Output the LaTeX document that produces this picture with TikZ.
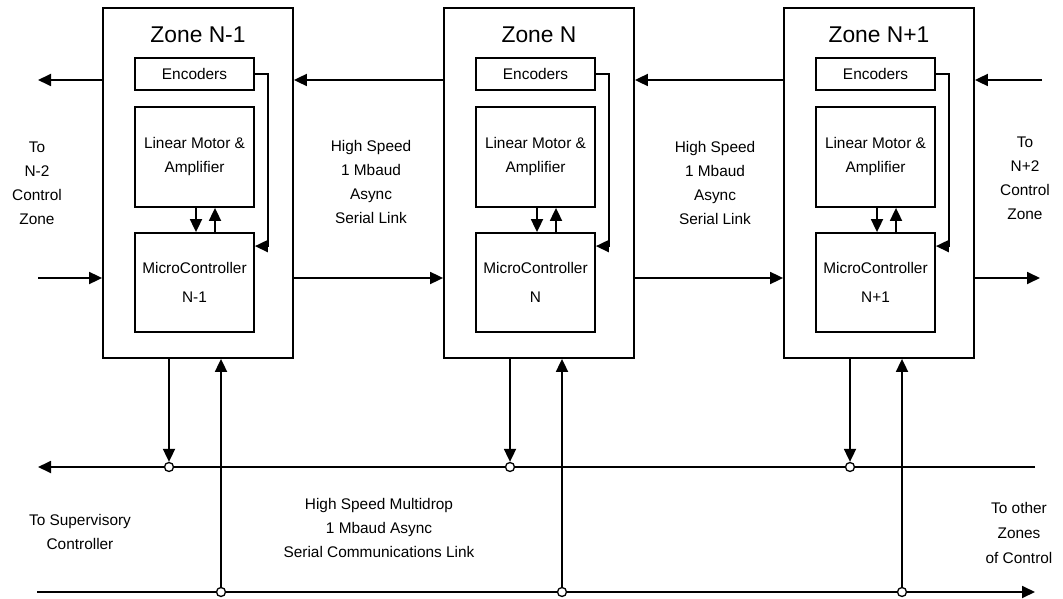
\documentclass[tikz,border=0pt]{standalone}
\usepackage{fontspec}
\setmainfont{Liberation Sans}
\usetikzlibrary{arrows.meta}
\newcommand\lblfont{\fontsize{15.4}{24}\selectfont}
\newcommand\ttlfont{\fontsize{22.8}{27}\selectfont}
\begin{document}
\begin{tikzpicture}[x=1pt,y=-1pt,line width=1.8pt,
  arr/.style={-{Triangle[length=13pt,width=12pt]}},
  zonebox/.style={draw, minimum width=190pt, minimum height=350pt, inner sep=0pt},
  unit/.style={draw, minimum width=119pt, inner sep=0pt, align=center, font=\lblfont},
  lbl/.style={align=center, font=\lblfont, inner sep=0pt},
  ttl/.style={font=\ttlfont, inner sep=0pt},
  tap/.style={circle, draw, fill=white, line width=1.3pt, minimum size=9pt, inner sep=0pt}]
\useasboundingbox (0,0) rectangle (1063,599);

% the three control zones with their units
\foreach \i/\x/\n in {1/103/N-1, 2/444/N, 3/784/N+1}{
  \node[zonebox] (z\i) at (\x+95,183) {};
  \node[ttl] (t\i) at (\x+95,35) {Zone \n};
  \node[unit, minimum height=32pt] (e\i) at (\x+91.5,74) {Encoders};
  \node[unit, minimum height=100pt] (l\i) at (\x+91.5,157) {Linear Motor \&\\Amplifier};
  \node[unit, minimum height=99pt] (m\i) at (\x+91.5,282.5) {MicroController\\[5pt]\n};
  % encoder feedback and motor/controller links
  \draw[arr] (e\i.east) -- ++(13,0) |- ([yshift=-14pt]m\i.north east);
  \draw[arr] ([xshift=1.5pt]l\i.south) -- ([xshift=1.5pt]m\i.north);
  \draw[arr] ([xshift=20.5pt]m\i.north) -- ([xshift=20.5pt]l\i.south);
}

% zone-to-zone serial links
\coordinate (tL) at (38,80);
\coordinate (tR) at (1042,80);
\coordinate (bL) at (38,278);
\coordinate (bR) at (1040,278);
\draw[arr] (z1.west |- tL) -- (tL);
\draw[arr] (z2.west |- tL) -- (z1.east |- tL);
\draw[arr] (z3.west |- tL) -- (z2.east |- tL);
\draw[arr] (tR) -- (z3.east |- tR);
\draw[arr] (bL) -- (z1.west |- bL);
\draw[arr] (z1.east |- bL) -- (z2.west |- bL);
\draw[arr] (z2.east |- bL) -- (z3.west |- bL);
\draw[arr] (z3.east |- bL) -- (bR);

% multidrop bus
\coordinate (uL) at (38,467);
\coordinate (uR) at (1035,467);
\coordinate (lL) at (37,592);
\coordinate (lR) at (1035,592);
\draw[arr] (uR) -- (uL);
\draw[arr] (lL) -- (lR);

\foreach \i/\x in {1/103, 2/444, 3/784}{
  \node[tap] (d\i) at (\x+66,467) {};
  \node[tap] (u\i) at (\x+118,592) {};
  \draw[arr] (z\i.south -| d\i) -- (d\i.north);
  \draw[arr] (u\i.north) -- (z\i.south -| u\i);
}

% labels
\node[lbl] (lblL) at (37,183) {To\\N-2\\Control\\Zone};
\node[lbl] (lblA) at (371,182) {High Speed\\1 Mbaud\\Async\\Serial Link};
\node[lbl] (lblB) at (715,183) {High Speed\\1 Mbaud\\Async\\Serial Link};
\node[lbl] (lblR) at (1025,178) {To\\N+2\\Control\\Zone};
\node[lbl] (lblS) at (80,532) {To Supervisory\\Controller};
\node[lbl] (lblM) at (379,528) {High Speed Multidrop\\1 Mbaud Async\\Serial Communications Link};
\node[lbl, font=\fontsize{15.4}{25}\selectfont] (lblO) at (1019,533) {To other\\Zones\\of Control};
\end{tikzpicture}
\end{document}
